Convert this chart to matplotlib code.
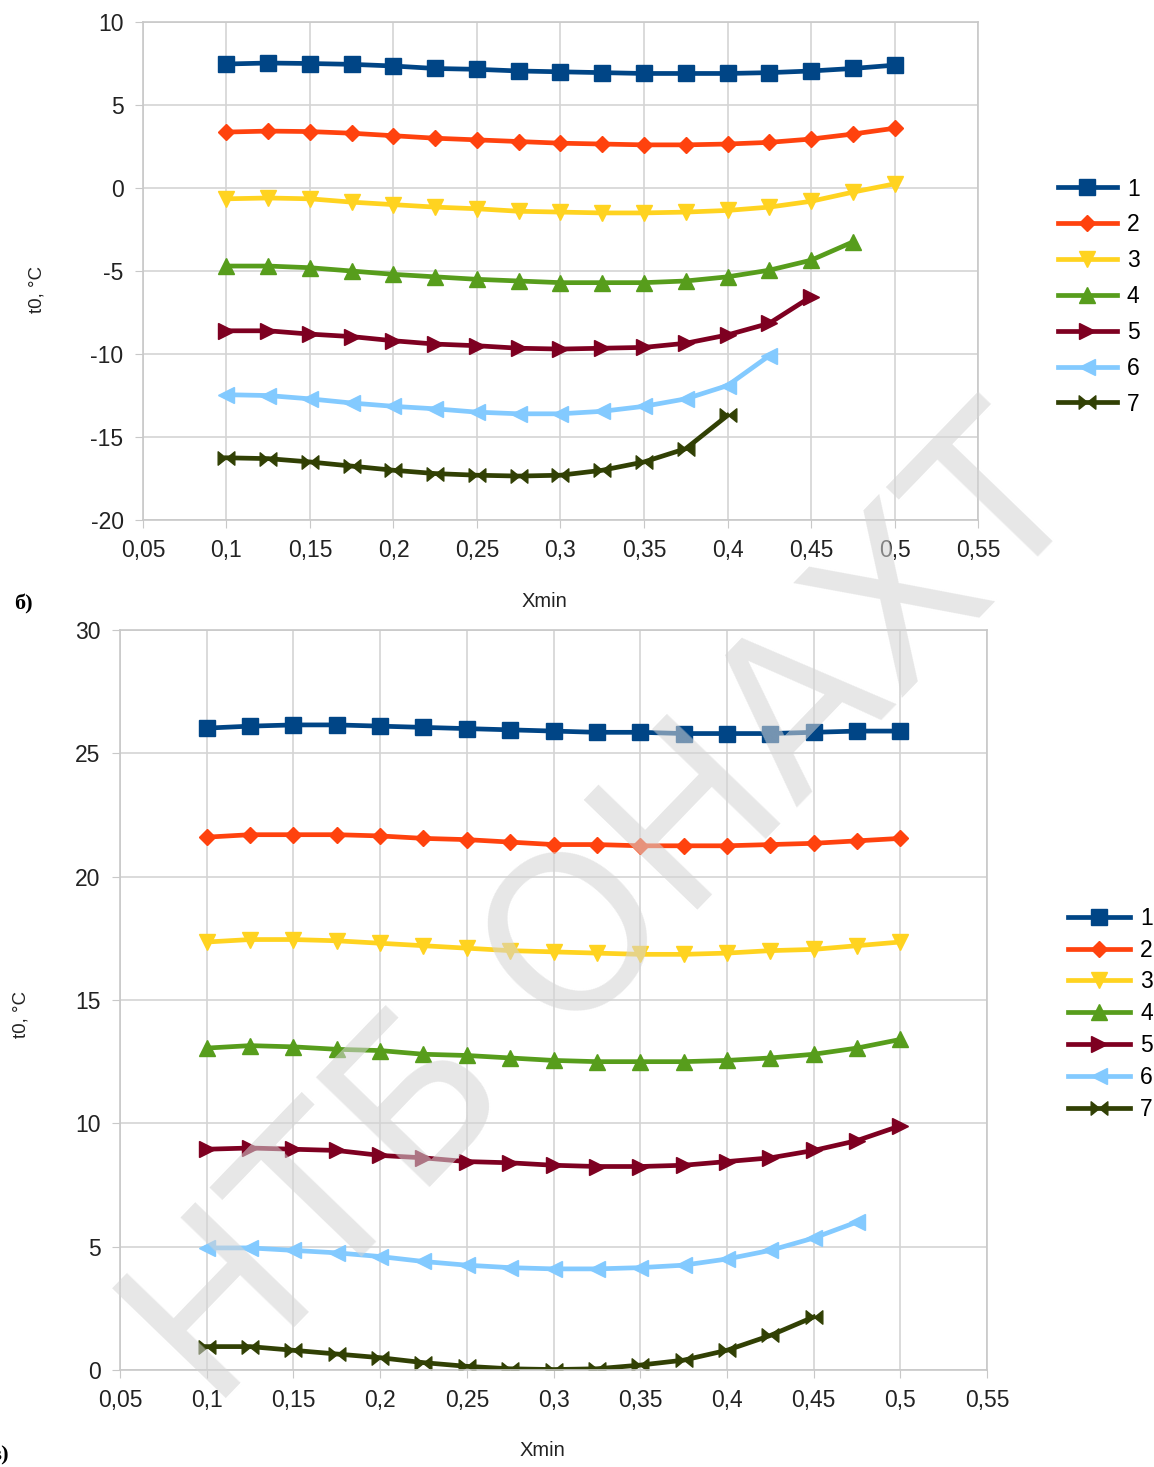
import numpy as np
import matplotlib
matplotlib.use("Agg")
import matplotlib.pyplot as plt
from matplotlib.path import Path
from matplotlib.ticker import FuncFormatter

plt.rcParams["font.family"] = ["Liberation Sans", "DejaVu Sans"]
plt.rcParams["axes.unicode_minus"] = False

# x grid of the calculation
xmin = [0.1, 0.125, 0.15, 0.175, 0.2, 0.225, 0.25, 0.275, 0.3, 0.325,
        0.35, 0.375, 0.4, 0.425, 0.45, 0.475, 0.5]

# panel a) t0 vs Xmin
top_1 = [7.47, 7.53, 7.5, 7.45, 7.35, 7.2, 7.15, 7.05, 7.0, 6.95, 6.9, 6.9, 6.9, 6.95, 7.05, 7.2, 7.4]
top_2 = [3.37, 3.43, 3.4, 3.3, 3.15, 3.0, 2.9, 2.8, 2.7, 2.65, 2.6, 2.6, 2.65, 2.75, 2.95, 3.25, 3.6]
top_3 = [-0.65, -0.6, -0.65, -0.85, -1.0, -1.15, -1.25, -1.4, -1.45, -1.5, -1.5, -1.45, -1.35, -1.15, -0.8, -0.25, 0.25]
top_4 = [-4.7, -4.7, -4.8, -5.0, -5.2, -5.35, -5.5, -5.6, -5.7, -5.7, -5.7, -5.6, -5.35, -4.95, -4.35, -3.25]
top_5 = [-8.6, -8.6, -8.8, -8.95, -9.2, -9.4, -9.5, -9.65, -9.7, -9.65, -9.6, -9.35, -8.85, -8.15, -6.55]
top_6 = [-12.45, -12.5, -12.7, -12.95, -13.15, -13.3, -13.5, -13.6, -13.6, -13.45, -13.15, -12.7, -11.9, -10.1]
top_7 = [-16.25, -16.3, -16.5, -16.75, -17.0, -17.2, -17.3, -17.35, -17.3, -17.0, -16.5, -15.7, -13.7]

# panel b) t0 vs Xmin
bot_1 = [26.02, 26.1, 26.15, 26.15, 26.1, 26.05, 26.0, 25.95, 25.9, 25.85, 25.85, 25.8, 25.8, 25.8, 25.85, 25.9, 25.9]
bot_2 = [21.6, 21.7, 21.7, 21.7, 21.65, 21.55, 21.5, 21.4, 21.3, 21.3, 21.25, 21.25, 21.25, 21.3, 21.35, 21.45, 21.55]
bot_3 = [17.35, 17.45, 17.45, 17.4, 17.3, 17.2, 17.1, 17.0, 16.95, 16.9, 16.85, 16.85, 16.9, 17.0, 17.05, 17.2, 17.35]
bot_4 = [13.05, 13.15, 13.1, 13.0, 12.95, 12.8, 12.75, 12.65, 12.55, 12.5, 12.5, 12.5, 12.55, 12.65, 12.8, 13.05, 13.4]
bot_5 = [8.95, 9.0, 8.95, 8.9, 8.7, 8.6, 8.45, 8.4, 8.3, 8.25, 8.25, 8.3, 8.45, 8.6, 8.9, 9.3, 9.9]
bot_6 = [4.95, 4.95, 4.85, 4.75, 4.6, 4.4, 4.25, 4.15, 4.1, 4.1, 4.15, 4.25, 4.5, 4.85, 5.35, 6.0]
bot_7 = [0.95, 0.95, 0.8, 0.65, 0.5, 0.3, 0.15, 0.05, 0.02, 0.05, 0.2, 0.4, 0.8, 1.4, 2.15]

labels = ["1", "2", "3", "4", "5", "6", "7"]
x_ticks = [0.05, 0.1, 0.15, 0.2, 0.25, 0.3, 0.35, 0.4, 0.45, 0.5, 0.55]
top_yticks = [-20, -15, -10, -5, 0, 5, 10]
bot_yticks = [0, 5, 10, 15, 20, 25, 30]

colors = ["#004586", "#ff420e", "#ffd320", "#579d1c", "#7e0021", "#83caff", "#314004"]

# bow-tie marker: two triangles pointing at each other
bowtie = Path(
    [(-1, -0.8), (0, 0), (-1, 0.8), (-1, -0.8), (1, -0.8), (0, 0), (1, 0.8), (1, -0.8)],
    [Path.MOVETO, Path.LINETO, Path.LINETO, Path.CLOSEPOLY,
     Path.MOVETO, Path.LINETO, Path.LINETO, Path.CLOSEPOLY])
markers = ["s", "D", "v", "^", ">", "<", bowtie]
msizes = [11, 8, 12, 12, 12, 12, 12]

comma = FuncFormatter(lambda v, p: ("%g" % v).replace(".", ","))


def panel(ax, series, yticks, ylab_xy, xlab_xy, legend_anchor, spacing, hlen):
    for y, lab, c, m, ms in zip(series, labels, colors, markers, msizes):
        ax.plot(xmin[:len(y)], y, color=c, marker=m, markersize=ms,
                linewidth=3.4, label=lab)
    ax.set_xlim(x_ticks[0], x_ticks[-1])
    ax.set_ylim(yticks[0], yticks[-1])
    ax.set_xticks(x_ticks)
    ax.set_yticks(yticks)
    ax.xaxis.set_major_formatter(comma)
    ax.grid(True, color="#d4d4d4", linewidth=1.2)
    ax.set_axisbelow(True)
    for s in ax.spines.values():
        s.set_color("#c8c8c8")
        s.set_linewidth(1.2)
    ax.tick_params(labelsize=16.5, length=6, color="#c8c8c8", pad=8,
                   labelcolor="#222222")
    ax.set_xlabel("Xmin", fontsize=14.5, color="#222222")
    ax.xaxis.set_label_coords(*xlab_xy)
    ax.set_ylabel("t0, °C", fontsize=13.5, color="#222222")
    ax.yaxis.set_label_coords(*ylab_xy)
    ax.legend(loc="upper left", bbox_to_anchor=legend_anchor,
              bbox_transform=fig.transFigure, frameon=False, fontsize=16.5,
              handlelength=hlen, handletextpad=0.45, labelspacing=spacing,
              borderpad=0, borderaxespad=0)


fig = plt.figure(figsize=(11.54, 14.67), dpi=100)
ax1 = fig.add_axes([0.1239, 0.6455, 0.7236, 0.3395])
ax2 = fig.add_axes([0.104, 0.0661, 0.7513, 0.5045])

panel(ax1, [top_1, top_2, top_3, top_4, top_5, top_6, top_7], top_yticks,
      (-0.117, 0.462), (0.481, -0.145), (0.917, 0.879), 0.56, 2.55)
panel(ax2, [bot_1, bot_2, bot_3, bot_4, bot_5, bot_6, bot_7], bot_yticks,
      (-0.104, 0.48), (0.487, -0.096), (0.9255, 0.382), 0.39, 2.7)

fig.text(0.012, 0.588, "б)", fontsize=16, fontweight="bold",
         family=["Liberation Serif", "DejaVu Serif"], va="center")
fig.text(0.008, 0.008, "в)", fontsize=16, fontweight="bold",
         family=["Liberation Serif", "DejaVu Serif"], ha="right", va="center")

# library stamp across the page
fig.text(0.528, 0.376, "НТБ ОНАХТ", rotation=46, fontsize=155,
         family=["DejaVu Sans"], color="#d4d4d4", alpha=0.56,
         ha="center", va="center", zorder=10)

fig.savefig("out.png", dpi=100)
